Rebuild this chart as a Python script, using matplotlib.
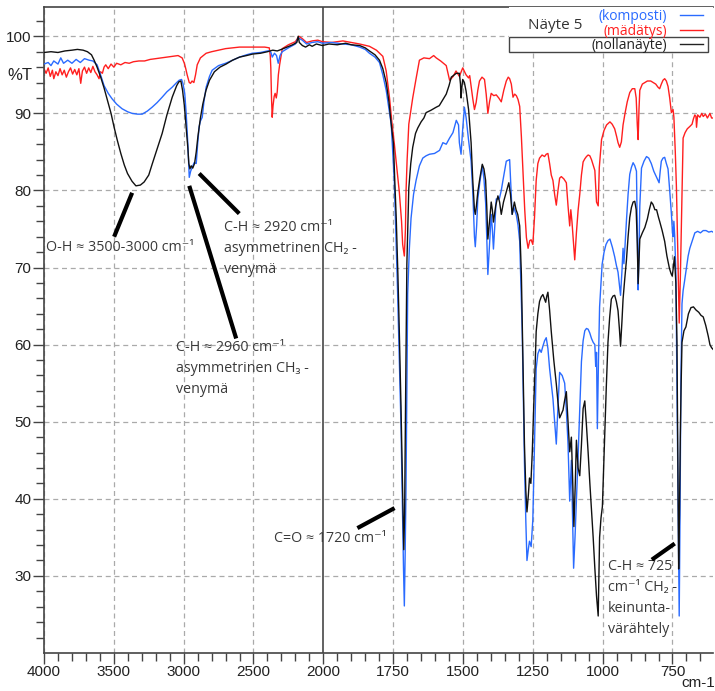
import numpy as np
import matplotlib.pyplot as plt
from matplotlib.patches import Rectangle
from matplotlib.ticker import FixedLocator

# Spektrit: aaltoluku (cm-1) ja läpäisy (%T)
wn_nolla = [4000, 3950, 3900, 3850, 3800, 3761, 3720, 3689, 3660, 3641, 3620, 3594, 3570, 3546, 3520,
            3498, 3475, 3450, 3425, 3402, 3370, 3342, 3310, 3283, 3250, 3224, 3190, 3154, 3120, 3082,
            3050, 3034, 3020, 3008, 2995, 2982, 2970, 2963, 2955, 2946, 2935, 2922, 2910, 2898, 2880,
            2863, 2840, 2815, 2780, 2740, 2696, 2650, 2600, 2550, 2505, 2450, 2400, 2362, 2330, 2300,
            2260, 2220, 2190, 2180, 2172, 2150, 2127, 2100, 2080, 2050, 2007, 1980, 1950, 1920, 1900,
            1870, 1850, 1835, 1815, 1799, 1787, 1775, 1765, 1757, 1749, 1744, 1739, 1733, 1728, 1722,
            1718, 1714, 1712, 1709, 1706, 1703, 1701, 1697, 1694, 1687, 1680, 1670, 1662, 1650, 1640,
            1632, 1615, 1596, 1585, 1575, 1560, 1550, 1542, 1524, 1513, 1509, 1507, 1504, 1501, 1495,
            1489, 1480, 1471, 1465, 1459, 1456, 1452, 1447, 1440, 1431, 1425, 1419, 1415, 1411, 1405,
            1399, 1395, 1391, 1383, 1375, 1369, 1363, 1355, 1345, 1336, 1330, 1324, 1316, 1310, 1304,
            1297, 1291, 1285, 1280, 1275, 1271, 1266, 1262, 1257, 1252, 1247, 1242, 1238, 1232, 1226,
            1220, 1214, 1209, 1204, 1200, 1196, 1190, 1184, 1175, 1166, 1160, 1154, 1148, 1142, 1136,
            1130, 1124, 1118, 1112, 1107, 1103, 1098, 1094, 1088, 1082, 1076, 1070, 1064, 1058, 1052,
            1046, 1040, 1034, 1028, 1022, 1016, 1011, 1006, 1001, 997, 993, 987, 981, 975, 969,
            963, 957, 951, 945, 940, 936, 931, 927, 921, 915, 909, 903, 897, 891, 885,
            880, 876, 873, 870, 867, 858, 849, 840, 833, 826, 820, 813, 807, 800, 796,
            787, 778, 770, 761, 755, 751, 747, 743, 738, 734, 731, 728, 725, 722, 719,
            716, 709, 702, 693, 684, 675, 666, 656, 648, 640, 631, 622, 616, 610, 605]
t_nolla = [97.9, 98.0, 97.9, 98.1, 98.2, 98.3, 98.2, 98.0, 97.6, 96.9, 96.0, 94.7, 93.3, 91.7, 90.0,
           88.2, 86.5, 84.8, 83.3, 82.2, 81.2, 80.6, 80.7, 81.1, 82.0, 83.5, 85.4, 87.4, 89.8, 92.1,
           93.6, 94.1, 94.2, 93.0, 91.0, 88.2, 85.5, 83.5, 82.8, 83.2, 82.9, 83.5, 85.0, 87.0, 89.4,
           91.2, 93.0, 94.3, 95.4, 96.0, 96.4, 96.9, 97.3, 97.5, 97.7, 97.8, 98.0, 98.2, 98.1, 98.3,
           98.6, 98.9, 99.2, 100.0, 99.2, 98.8, 98.6, 98.9, 98.7, 99.0, 98.8, 99.0, 98.9, 99.1, 98.9,
           98.8, 98.5, 98.1, 97.6, 96.9, 95.8, 94.0, 91.5, 88.6, 86.1, 81.0, 76.4, 69.0, 61.7, 52.0,
           44.7, 37.0, 33.4, 38.0, 50.9, 62.0, 70.4, 76.0, 80.3, 83.5, 85.6, 87.4, 88.1, 88.9, 89.4,
           90.1, 90.4, 90.8, 91.0, 91.6, 92.5, 93.6, 94.7, 95.2, 95.2, 93.8, 92.0, 93.4, 94.4, 94.0,
           92.9, 90.5, 86.2, 81.3, 77.5, 76.9, 78.0, 79.8, 81.5, 83.4, 82.8, 81.3, 78.0, 73.7, 76.0,
           78.5, 77.5, 75.9, 78.0, 79.3, 78.5, 76.9, 78.5, 79.8, 81.0, 79.5, 76.9, 78.5, 77.5, 76.9,
           75.4, 69.1, 56.9, 47.1, 41.0, 38.3, 40.5, 42.7, 42.0, 46.0, 51.8, 57.0, 61.7, 64.0, 65.6,
           66.2, 66.5, 66.0, 65.5, 66.3, 66.8, 64.5, 61.7, 58.0, 54.9, 52.5, 50.5, 51.0, 51.5, 52.8,
           53.9, 50.0, 46.1, 48.0, 42.0, 36.4, 42.0, 47.6, 44.0, 43.0, 47.0, 51.7, 52.7, 49.5, 46.0,
           42.1, 38.5, 35.0, 31.0, 27.4, 24.8, 35.0, 37.5, 39.0, 43.5, 48.1, 54.5, 60.3, 63.5, 65.9,
           66.3, 66.4, 65.6, 64.4, 62.0, 59.8, 63.0, 65.9, 68.5, 70.9, 74.0, 76.5, 77.8, 78.5, 78.6,
           77.5, 73.0, 67.9, 71.0, 73.7, 74.5, 75.2, 76.3, 77.5, 78.5, 78.2, 77.5, 77.5, 76.5, 76.0,
           74.8, 73.4, 71.5, 69.9, 69.2, 68.9, 70.0, 71.4, 68.0, 60.3, 46.0, 30.9, 38.0, 48.1, 55.0,
           60.3, 61.8, 62.3, 64.0, 64.8, 64.9, 64.5, 64.2, 63.8, 63.6, 62.5, 61.1, 60.0, 59.6, 59.4]

wn_komposti = [4000, 3970, 3950, 3930, 3900, 3880, 3860, 3830, 3800, 3770, 3740, 3710, 3677, 3650, 3620,
               3595, 3570, 3540, 3513, 3480, 3441, 3400, 3369, 3330, 3297, 3260, 3226, 3190, 3154, 3120,
               3082, 3050, 3032, 3015, 3004, 2992, 2982, 2970, 2960, 2950, 2939, 2925, 2910, 2900, 2889,
               2880, 2867, 2855, 2839, 2815, 2796, 2750, 2700, 2674, 2600, 2550, 2509, 2450, 2400, 2387,
               2375, 2366, 2350, 2335, 2323, 2310, 2294, 2250, 2200, 2180, 2151, 2120, 2080, 2040, 2007,
               1970, 1930, 1900, 1870, 1850, 1835, 1815, 1799, 1787, 1775, 1765, 1757, 1746, 1740, 1734,
               1728, 1722, 1716, 1713, 1710, 1707, 1704, 1701, 1698, 1692, 1686, 1677, 1668, 1656, 1644,
               1632, 1620, 1602, 1584, 1572, 1560, 1548, 1536, 1524, 1516, 1513, 1507, 1501, 1495, 1489,
               1480, 1471, 1465, 1459, 1456, 1451, 1447, 1440, 1431, 1425, 1419, 1415, 1411, 1405, 1399,
               1395, 1391, 1386, 1381, 1370, 1363, 1357, 1345, 1333, 1328, 1324, 1318, 1309, 1303, 1297,
               1288, 1280, 1275, 1271, 1266, 1262, 1256, 1250, 1244, 1238, 1232, 1226, 1220, 1214, 1208,
               1202, 1196, 1190, 1184, 1178, 1172, 1166, 1160, 1154, 1145, 1136, 1130, 1124, 1118, 1112,
               1108, 1104, 1099, 1094, 1088, 1082, 1076, 1070, 1064, 1058, 1052, 1046, 1040, 1034, 1028,
               1025, 1022, 1019, 1015, 1011, 1002, 995, 988, 981, 974, 965, 957, 951, 945, 940,
               936, 931, 927, 924, 920, 915, 909, 903, 897, 891, 885, 879, 876, 873, 870,
               867, 861, 852, 843, 835, 826, 817, 807, 798, 794, 790, 784, 778, 772, 766,
               760, 754, 750, 748, 745, 742, 738, 735, 733, 729, 726, 723, 720, 716, 712,
               707, 700, 694, 688, 679, 670, 660, 650, 640, 630, 620, 610, 605]
t_komposti = [96.4, 96.6, 96.2, 96.8, 96.4, 97.2, 96.5, 96.9, 96.5, 97.0, 96.6, 97.1, 96.9, 96.8, 96.3,
              95.0, 93.6, 92.6, 91.9, 91.2, 90.6, 90.2, 90.0, 89.9, 89.9, 90.3, 90.8, 91.4, 92.1, 92.8,
              93.4, 94.0, 94.3, 94.4, 93.8, 92.5, 90.0, 86.0, 81.7, 82.5, 83.0, 83.6, 83.5, 86.0, 88.3,
              89.0, 89.5, 91.5, 93.4, 94.8, 95.6, 96.2, 96.5, 96.7, 97.3, 97.6, 97.8, 97.9, 98.1, 98.1,
              97.9, 97.3, 97.8, 97.5, 96.5, 97.5, 98.0, 98.5, 99.0, 99.8, 99.5, 99.0, 99.2, 99.3, 99.1,
              99.2, 99.0, 98.9, 98.6, 98.3, 97.8, 97.3, 96.6, 95.0, 93.0, 90.5, 88.6, 81.3, 74.0, 66.6,
              58.0, 49.5, 37.3, 31.0, 26.1, 33.0, 41.5, 54.0, 66.6, 72.5, 76.4, 79.5, 81.3, 83.2, 84.2,
              84.5, 84.7, 84.8, 85.2, 86.2, 86.0, 86.8, 87.5, 89.1, 88.5, 86.2, 84.7, 88.0, 90.8, 89.5,
              86.5, 83.8, 79.8, 74.0, 72.7, 75.5, 78.9, 81.0, 83.2, 81.5, 78.4, 74.0, 69.1, 73.0, 76.9,
              75.0, 72.4, 75.5, 78.9, 78.9, 80.0, 81.3, 83.8, 84.0, 80.0, 76.9, 77.8, 76.8, 75.5, 73.4,
              61.7, 44.7, 37.0, 32.0, 33.5, 34.5, 33.8, 37.3, 47.0, 56.9, 58.8, 59.4, 59.0, 59.8, 60.5,
              60.9, 59.5, 56.9, 55.0, 53.0, 50.0, 47.1, 52.0, 56.4, 56.0, 55.0, 51.5, 47.1, 39.7, 45.0,
              38.0, 31.0, 35.0, 39.7, 45.5, 51.8, 57.8, 60.5, 61.8, 62.1, 62.0, 61.5, 60.8, 60.3, 60.0,
              57.2, 59.0, 49.1, 58.0, 64.9, 70.4, 72.0, 73.0, 73.5, 73.7, 72.6, 71.4, 70.3, 69.4, 67.8,
              66.4, 69.5, 72.5, 70.5, 72.8, 76.0, 79.5, 82.1, 83.0, 83.6, 83.2, 82.5, 75.0, 67.1, 72.0,
              78.0, 82.9, 83.8, 84.4, 84.2, 83.5, 82.5, 81.7, 81.0, 82.5, 83.8, 84.2, 84.3, 83.5, 82.8,
              80.0, 77.0, 74.5, 74.0, 76.0, 74.0, 69.4, 58.0, 50.1, 35.0, 24.8, 38.0, 55.0, 65.3, 67.0,
              68.2, 70.0, 71.5, 72.5, 73.5, 74.5, 74.7, 74.5, 74.8, 74.8, 74.6, 74.7, 74.6]

wn_madatys = [4000, 3985, 3970, 3955, 3940, 3930, 3915, 3900, 3885, 3870, 3855, 3840, 3825, 3810, 3795,
              3780, 3765, 3750, 3737, 3725, 3710, 3695, 3680, 3665, 3650, 3635, 3620, 3606, 3595, 3582,
              3570, 3558, 3540, 3520, 3500, 3480, 3450, 3420, 3390, 3360, 3320, 3280, 3240, 3200, 3160,
              3120, 3082, 3040, 3011, 2995, 2985, 2975, 2960, 2951, 2940, 2927, 2915, 2903, 2880, 2839,
              2800, 2750, 2700, 2600, 2500, 2420, 2387, 2380, 2376, 2371, 2366, 2360, 2352, 2345, 2337,
              2330, 2322, 2313, 2300, 2294, 2250, 2200, 2175, 2151, 2120, 2080, 2040, 2007, 1970, 1930,
              1900, 1870, 1835, 1810, 1787, 1775, 1763, 1755, 1746, 1737, 1728, 1720, 1716, 1710, 1706,
              1704, 1700, 1694, 1680, 1668, 1656, 1640, 1620, 1605, 1596, 1580, 1560, 1548, 1535, 1525,
              1513, 1501, 1489, 1480, 1476, 1465, 1459, 1453, 1447, 1441, 1432, 1423, 1417, 1411, 1405,
              1399, 1390, 1381, 1372, 1363, 1354, 1345, 1338, 1333, 1327, 1321, 1315, 1309, 1303, 1297,
              1291, 1285, 1279, 1273, 1267, 1261, 1256, 1250, 1244, 1238, 1232, 1226, 1217, 1208, 1202,
              1196, 1190, 1184, 1178, 1172, 1166, 1160, 1154, 1148, 1139, 1130, 1124, 1118, 1114, 1110,
              1105, 1100, 1094, 1088, 1082, 1076, 1070, 1064, 1058, 1052, 1046, 1040, 1034, 1028, 1022,
              1016, 1012, 1004, 995, 986, 980, 974, 966, 957, 950, 945, 939, 933, 927, 920,
              912, 903, 894, 885, 880, 876, 873, 870, 867, 858, 849, 840, 828, 819, 810,
              802, 796, 790, 784, 778, 772, 766, 760, 754, 748, 745, 740, 736, 731, 726,
              722, 718, 714, 712, 705, 697, 688, 680, 675, 670, 666, 664, 660, 652, 645,
              640, 632, 625, 616, 610, 605]
t_madatys = [95.8, 95.2, 95.9, 94.8, 95.6, 94.5, 95.4, 94.9, 95.8, 95.0, 95.6, 94.7, 95.4, 95.9, 95.1,
             95.7, 95.0, 95.8, 93.9, 95.5, 96.0, 95.2, 95.9, 95.3, 96.1, 95.4, 95.0, 94.5, 95.4, 95.2,
             96.0, 96.3, 95.8, 96.4, 96.0, 96.5, 96.3, 96.6, 96.5, 96.7, 96.8, 96.8, 97.0, 97.1, 97.2,
             97.3, 97.4, 97.5, 97.2, 96.5, 95.8, 95.0, 94.0, 93.9, 94.2, 94.0, 95.0, 96.3, 97.2, 97.8,
             98.0, 98.2, 98.4, 98.6, 98.6, 98.6, 98.5, 97.5, 95.9, 92.0, 89.5, 91.0, 92.2, 92.6, 92.0,
             92.8, 95.0, 96.3, 97.8, 98.4, 98.9, 99.3, 100.0, 99.7, 99.2, 99.4, 99.5, 99.3, 99.2, 99.4,
             99.2, 99.0, 98.7, 98.2, 97.4, 95.5, 92.0, 89.0, 86.1, 83.0, 79.8, 76.0, 73.0, 71.5, 75.0,
             79.8, 84.0, 88.6, 92.0, 94.5, 96.9, 97.2, 97.1, 97.5, 97.2, 96.8, 96.2, 94.3, 94.8, 95.5,
             94.8, 95.9, 95.0, 94.6, 94.9, 91.9, 90.5, 91.4, 93.0, 94.2, 94.7, 94.4, 92.5, 90.0, 91.5,
             92.6, 92.3, 92.4, 92.0, 91.5, 93.0, 94.2, 94.7, 94.5, 93.8, 92.1, 92.5, 92.3, 91.8, 90.9,
             87.0, 82.2, 77.5, 73.9, 72.5, 73.5, 73.6, 73.0, 76.5, 81.3, 83.5, 84.2, 84.6, 84.4, 84.7,
             84.8, 83.5, 82.0, 81.3, 79.5, 78.1, 80.0, 81.6, 81.8, 81.5, 81.0, 78.0, 75.4, 77.5, 76.0,
             73.5, 71.0, 74.5, 77.4, 79.5, 82.0, 83.7, 84.1, 84.4, 84.6, 84.5, 84.0, 83.3, 82.6, 78.5,
             78.0, 83.0, 86.6, 87.8, 88.5, 88.7, 88.9, 88.6, 88.0, 87.0, 86.2, 85.6, 86.3, 88.5, 90.0,
             91.5, 92.7, 93.2, 93.2, 92.0, 88.5, 86.6, 90.5, 93.0, 93.8, 94.0, 94.2, 94.2, 94.0, 93.8,
             93.4, 93.2, 93.8, 94.3, 94.5, 94.2, 93.5, 92.0, 90.1, 90.5, 89.5, 85.0, 80.5, 72.0, 62.8,
             68.5, 75.6, 82.0, 86.8, 87.5, 88.0, 88.3, 88.6, 89.3, 89.8, 89.6, 88.2, 89.8, 89.5, 90.0,
             89.6, 89.9, 89.4, 90.0, 89.4, 89.4]

x_major = [4000, 3500, 3000, 2500, 2000, 1750, 1500, 1250, 1000, 750]
y_major = [30, 40, 50, 60, 70, 80, 90, 100]


# jaettu asteikko: 4000-2000 puolet tiheämpi kuin 2000-600
def fwd(x):
    x = np.asarray(x, dtype=float)
    return np.where(x >= 2000, (x - 2000) / 500.0, (x - 2000) / 250.0)


def inv(p):
    p = np.asarray(p, dtype=float)
    return np.where(p >= 0, 2000 + 500.0 * p, 2000 + 250.0 * p)


tick_font = ['Liberation Sans Narrow', 'Liberation Sans', 'DejaVu Sans']
note_font = ['Open Sans', 'DejaVu Sans']

fig = plt.figure(figsize=(7.15, 6.91), dpi=100)
ax = fig.add_axes([44 / 715, 1 - 653 / 691, 669 / 715, 646 / 691])
ax.set_xscale('function', functions=(fwd, inv))
ax.set_xlim(4000, 605)
ax.set_ylim(20, 103.8)

# ruudukko
for v in x_major:
    if v == 2000:
        ax.axvline(v, color='#555555', lw=1.3, zorder=1)
    else:
        ax.axvline(v, color='#aaaaaa', lw=0.9, ls=(0, (4, 3)), zorder=1)
for v in y_major:
    ax.axhline(v, color='#aaaaaa', lw=0.9, ls=(0, (4, 3)), zorder=1)

ax.plot(wn_madatys, t_madatys, color='#ff1f1f', lw=1.0, zorder=2)
ax.plot(wn_komposti, t_komposti, color='#2a6bff', lw=1.0, zorder=3)
ax.plot(wn_nolla, t_nolla, color='#111111', lw=1.0, zorder=4)

ax.xaxis.set_major_locator(FixedLocator(x_major))
minor_x = list(range(3900, 2000, -100)) + list(range(1950, 600, -50))
ax.xaxis.set_minor_locator(FixedLocator(minor_x))
ax.set_xticklabels([str(v) for v in x_major])
ax.yaxis.set_major_locator(FixedLocator(y_major))
ax.yaxis.set_minor_locator(FixedLocator(list(range(22, 104, 2))))

ax.tick_params(axis='both', which='major', length=8, width=1.0, color='#444444', pad=1,
               labelsize=11, labelcolor='#222222')
ax.tick_params(axis='both', which='minor', length=6, width=1.0, color='#444444')
for lab in ax.get_xticklabels() + ax.get_yticklabels():
    lab.set_family(tick_font)

for s in ['left', 'bottom', 'top']:
    ax.spines[s].set_color('#444444')
    ax.spines[s].set_linewidth(1.2)
ax.spines['right'].set_visible(False)

fig.text(20 / 715, 1 - 76 / 691, '%T', ha='center', va='center', fontsize=12,
         family=tick_font, color='#222222')
fig.text(698 / 715, 1 - 683 / 691, 'cm-1', ha='center', va='center', fontsize=11,
         family=tick_font, color='#222222')

# selite
ax.add_patch(Rectangle((0.695, 0.930), 0.305, 0.07, transform=ax.transAxes,
                       facecolor='white', edgecolor='none', zorder=5, clip_on=False))
ax.add_patch(Rectangle((0.695, 0.930), 0.2975, 0.0232, transform=ax.transAxes,
                       facecolor='white', edgecolor='#444444', lw=1.0, zorder=6, clip_on=False))
ax.text(0.764, 0.9706, 'Näyte 5', transform=ax.transAxes, ha='center', va='center',
        fontsize=11, family=note_font, color='#333333', zorder=7)
leg_names = ['(komposti)', '(mädätys)', '(nollanäyte)']
leg_colors = ['#2a6bff', '#ff1f1f', '#222222']
leg_y = [0.986, 0.9625, 0.9405]
for name, c, yy in zip(leg_names, leg_colors, leg_y):
    ax.text(0.931, yy, name, transform=ax.transAxes, ha='right', va='center',
            fontsize=10, family=note_font, color=c, zorder=7)
    ax.plot([0.9507, 0.985], [yy + 0.0015, yy + 0.0015], transform=ax.transAxes,
            color=c, lw=1.0, zorder=7, clip_on=False)

# huomautukset
notes = [
    ('O-H ≈ 3500-3000 cm⁻¹', (3986, 72.6), 'center', (3369, 79.7), (3498, 74.0)),
    ('C-H ≈ 2920 cm⁻¹\nasymmetrinen CH₂ -\nvenymä', (2710, 76.2), 'top', (2889, 82.2), (2602, 77.0)),
    ('C-H ≈ 2960 cm⁻¹\nasymmetrinen CH₃ -\nvenymä', (3054, 60.6), 'top', (2960, 80.6), (2624, 60.8)),
    ('C=O ≈ 1720 cm⁻¹', (2351, 34.9), 'center', (1878, 36.2), (1745, 38.8)),
    ('C-H ≈ 725\ncm⁻¹ CH₂ -\nkeinunta-\nvärähtely', (982, 32.2), 'top', (824, 32.1), (742, 34.2)),
]
for txt, pos, va, p0, p1 in notes:
    ax.text(pos[0], pos[1], txt, ha='left', va=va, fontsize=10.3, family=note_font,
            color='#3a3a3a', linespacing=1.55, zorder=6)
    ax.plot([p0[0], p1[0]], [p0[1], p1[1]], color='black', lw=3.0,
            solid_capstyle='butt', zorder=6)

fig.savefig('out.png', dpi=100)
